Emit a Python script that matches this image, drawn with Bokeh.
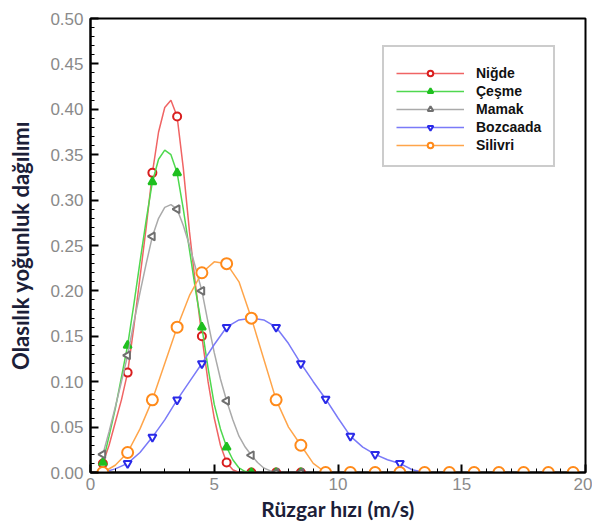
import numpy as np
from bokeh.plotting import figure
from bokeh.models import Range1d, SingleIntervalTicker, NumeralTickFormatter, Legend, LegendItem
from bokeh.embed import file_html
from bokeh.resources import INLINE

# ---------------- data ----------------
series_names = ["Niğde", "Çeşme", "Mamak", "Bozcaada", "Silivri"]

marker_x = [0.5, 1.5, 2.5, 3.5, 4.5, 5.5, 6.5, 7.5, 8.5, 9.5,
            10.5, 11.5, 12.5, 13.5, 14.5, 15.5, 16.5, 17.5, 18.5, 19.5]

nigde_m = [0.010, 0.110, 0.330, 0.392, 0.150, 0.011, 0.0, 0.0, 0.0, 0.0,
           0.0, 0.0, 0.0, 0.0, 0.0, 0.0, 0.0, 0.0, 0.0, 0.0]
cesme_m = [0.011, 0.140, 0.320, 0.330, 0.160, 0.028, 0.0, 0.0, 0.0, 0.0,
           0.0, 0.0, 0.0, 0.0, 0.0, 0.0, 0.0, 0.0, 0.0, 0.0]
mamak_m = [0.020, 0.129, 0.260, 0.290, 0.200, 0.079, 0.019, 0.0, 0.0, 0.0,
           0.0, 0.0, 0.0, 0.0, 0.0, 0.0, 0.0, 0.0, 0.0, 0.0]
bozcaada_m = [0.000, 0.010, 0.039, 0.080, 0.120, 0.160, 0.170, 0.160, 0.120, 0.081,
              0.040, 0.020, 0.010, 0.0, 0.0, 0.0, 0.0, 0.0, 0.0, 0.0]
silivri_m = [0.000, 0.022, 0.080, 0.160, 0.220, 0.230, 0.170, 0.080, 0.030, 0.0,
             0.0, 0.0, 0.0, 0.0, 0.0, 0.0, 0.0, 0.0, 0.0, 0.0]

# smooth curve traces
nigde_cx = [0.5, 0.75, 1.0, 1.25, 1.5, 1.75, 2.0, 2.25, 2.5, 2.75, 3.0, 3.25,
            3.5, 3.75, 4.0, 4.25, 4.5, 4.75, 5.0, 5.25, 5.5, 5.75, 6.0]
nigde_cy = [0.010, 0.030, 0.055, 0.080, 0.110, 0.160, 0.215, 0.270, 0.330, 0.375, 0.402, 0.410,
            0.392, 0.335, 0.265, 0.205, 0.150, 0.100, 0.060, 0.030, 0.011, 0.003, 0.000]

cesme_cx = [0.5, 0.75, 1.0, 1.25, 1.5, 1.75, 2.0, 2.25, 2.5, 2.75, 3.0, 3.25, 3.5,
            3.75, 4.0, 4.25, 4.5, 4.75, 5.0, 5.25, 5.5, 5.75, 6.0, 6.25, 6.5]
cesme_cy = [0.011, 0.040, 0.070, 0.105, 0.140, 0.185, 0.232, 0.278, 0.320, 0.345, 0.355, 0.350, 0.330,
            0.290, 0.245, 0.200, 0.160, 0.115, 0.075, 0.048, 0.028, 0.014, 0.005, 0.001, 0.000]

mamak_cx = [0.5, 0.75, 1.0, 1.25, 1.5, 1.75, 2.0, 2.25, 2.5, 2.75, 3.0, 3.25, 3.5, 3.75, 4.0,
            4.25, 4.5, 4.75, 5.0, 5.25, 5.5, 5.75, 6.0, 6.25, 6.5, 6.75, 7.0, 7.25, 7.5]
mamak_cy = [0.020, 0.045, 0.072, 0.100, 0.129, 0.165, 0.198, 0.230, 0.260, 0.280, 0.292, 0.295, 0.290, 0.272, 0.250,
            0.225, 0.200, 0.165, 0.132, 0.103, 0.079, 0.058, 0.040, 0.028, 0.019, 0.011, 0.005, 0.002, 0.000]

silivri_cx = [0.5, 1.0, 1.5, 2.0, 2.5, 3.0, 3.5, 4.0, 4.5, 5.0, 5.5, 6.0, 6.5, 7.0, 7.5, 8.0, 8.5, 9.0, 9.5]
silivri_cy = [0.000, 0.008, 0.022, 0.048, 0.080, 0.120, 0.160, 0.195, 0.220, 0.232, 0.230, 0.210, 0.170,
              0.125, 0.080, 0.050, 0.030, 0.010, 0.000]

bozcaada_cx = [0.5, 1.0, 1.5, 2.0, 2.5, 3.0, 3.5, 4.0, 4.5, 5.0, 5.5, 6.0, 6.5, 7.0, 7.5, 8.0, 8.5,
               9.0, 9.5, 10.0, 10.5, 11.0, 11.5, 12.0, 12.5, 13.0, 13.5]
bozcaada_cy = [0.000, 0.004, 0.010, 0.022, 0.039, 0.058, 0.080, 0.100, 0.120, 0.141, 0.160, 0.168, 0.170,
               0.168, 0.160, 0.142, 0.120, 0.100, 0.081, 0.060, 0.040, 0.028, 0.020, 0.014, 0.010, 0.003, 0.000]

x_label = "Rüzgar hızı (m/s)"
y_label = "Olasılık yoğunluk dağılımı"

# ---------------- figure ----------------
p = figure(width=592, height=526, x_range=Range1d(0, 20), y_range=Range1d(0, 0.5),
           output_backend="svg", toolbar_location=None,
           min_border_left=90, min_border_right=7, min_border_top=18, min_border_bottom=54)
p.background_fill_color = "white"
p.border_fill_color = "white"
p.grid.visible = False
p.outline_line_color = "black"
p.outline_line_width = 2

title_color = "#1c2038"
tick_color = "#8a8a8a"

for ax in (p.xaxis[0], p.yaxis[0]):
    ax.axis_line_color = "black"
    ax.axis_line_width = 2
    ax.major_tick_in = 8
    ax.major_tick_out = 0
    ax.minor_tick_in = 4
    ax.minor_tick_out = 0
    ax.major_tick_line_color = "black"
    ax.major_tick_line_width = 2
    ax.minor_tick_line_color = "black"
    ax.minor_tick_line_width = 1
    ax.major_label_text_color = tick_color
    ax.major_label_text_font = "Liberation Sans"
    ax.major_label_text_font_size = "17px"
    ax.axis_label_text_font = "Lato"
    ax.axis_label_text_font_style = "bold"
    ax.axis_label_text_color = title_color

p.xaxis.axis_label_text_font_size = "21px"
p.yaxis.axis_label_text_font_size = "22px"
p.xaxis.ticker = SingleIntervalTicker(interval=5, num_minor_ticks=5)
p.yaxis.ticker = SingleIntervalTicker(interval=0.05, num_minor_ticks=5)
p.yaxis.formatter = NumeralTickFormatter(format="0.00")
p.xaxis.formatter = NumeralTickFormatter(format="0")
p.xaxis.axis_label = x_label
p.yaxis.axis_label = y_label
p.yaxis.major_label_standoff = 7
p.xaxis.major_label_standoff = 5
p.yaxis.axis_label_standoff = 13
p.xaxis.axis_label_standoff = 3

styles = [
    # name, curve x, curve y, markers, line color, marker color, marker, size, angle, fill
    ("Niğde", nigde_cx, nigde_cy, nigde_m, "#f06464", "#d81e1e", "circle", 8, 0.0, False),
    ("Çeşme", cesme_cx, cesme_cy, cesme_m, "#4fd84f", "#1fbf1f", "triangle", 8, 0.0, True),
    ("Mamak", mamak_cx, mamak_cy, mamak_m, "#aaaaaa", "#707070", "triangle", 8, np.pi / 2, False),
    ("Bozcaada", bozcaada_cx, bozcaada_cy, bozcaada_m, "#7a7af8", "#2a2ae8", "inverted_triangle", 8, 0.0, False),
    ("Silivri", silivri_cx, silivri_cy, silivri_m, "#ffa54a", "#ff8a1a", "circle", 11, 0.0, False),
]

items = []
for name, cx, cy, my, lc, mc, mk, sz, ang, fill in styles:
    lr = p.line(cx, cy, line_color=lc, line_width=1.5)
    sr = p.scatter(marker_x, my, marker=mk, size=sz, angle=ang, angle_units="rad",
                   line_color=mc, line_width=2,
                   fill_color=mc if fill else "white", fill_alpha=1.0)
    items.append(LegendItem(label=name, renderers=[lr, sr]))

legend = Legend(items=items, location=(292, 305))
legend.title = " "
legend.title_text_font_size = "6px"
legend.title_standoff = 0
legend.border_line_color = "#9a9a9a"
legend.border_line_width = 2
legend.background_fill_color = "white"
legend.background_fill_alpha = 1.0
legend.padding = 12
legend.spacing = 2
legend.margin = 0
legend.glyph_width = 68
legend.glyph_height = 14
legend.label_height = 14
legend.label_standoff = 12
legend.label_text_font = "Liberation Sans"
legend.label_text_font_style = "bold"
legend.label_text_font_size = "14px"
legend.label_text_color = "#111111"
p.add_layout(legend)

open("out.html", "w").write(file_html(p, INLINE))
